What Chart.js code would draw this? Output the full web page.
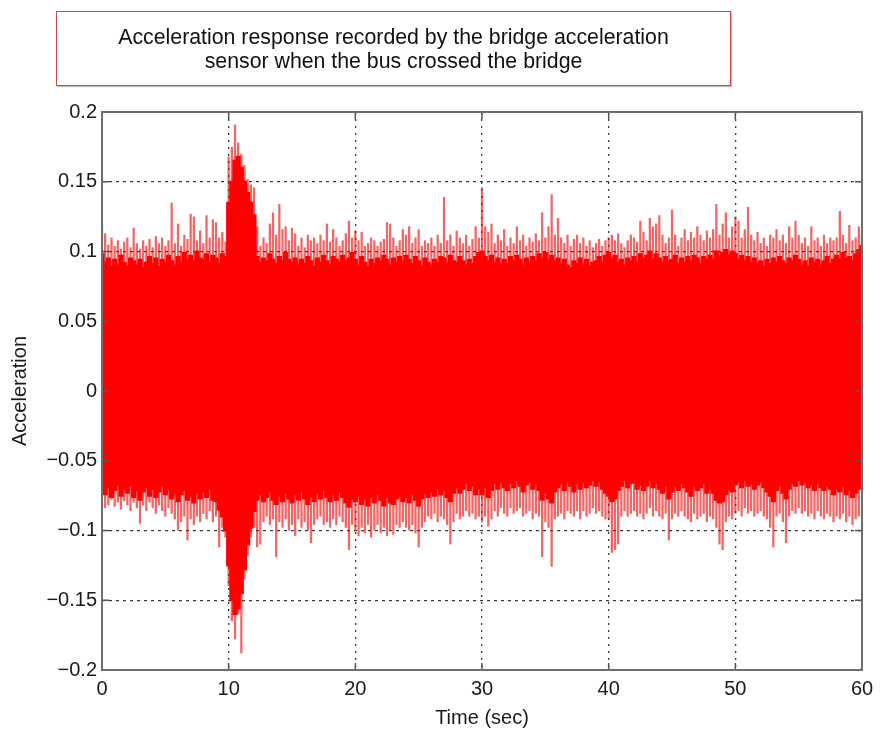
<!DOCTYPE html>
<html><head><meta charset="utf-8">
<script src="https://cdn.jsdelivr.net/npm/chart.js@4/dist/chart.umd.min.js"></script>
<style>
html,body{margin:0;padding:0;background:#fff;}
#wrap{position:relative;width:881px;height:734px;}
#c{position:absolute;left:0;top:0;}
#title{position:absolute;left:56px;top:11px;width:673px;height:73px;border:1px solid #d64545;box-shadow:1px 1px 1px #bbb;
 display:flex;align-items:center;justify-content:center;text-align:center;font-family:"Liberation Sans",Arial,sans-serif;font-size:21.3px;line-height:24px;color:#111;}
</style></head>
<body><div id="wrap"><canvas id="c" width="881" height="734"></canvas>
<div id="title">Acceleration response recorded by the bridge acceleration<br>sensor when the bus crossed the bridge</div></div>
<script>
const xTicks = [0,10,20,30,40,50,60];
const yTicks = [-0.2,-0.15,-0.1,-0.05,0,0.05,0.1,0.15,0.2];
const xLabel = "Time (sec)";
const yLabel = "Acceleration";

const spikeTime = [
0,0.25,0.5,0.75,1,1.25,1.5,1.75,2,2.25,2.5,2.75,3,3.25,3.5,3.75,4,4.25,4.5,4.75,
5,5.25,5.5,5.75,6,6.25,6.5,6.75,7,7.25,7.5,7.75,8,8.25,8.5,8.75,9,9.25,9.5,9.75,
10,10.25,10.5,10.75,11,11.25,11.5,11.75,12,12.25,12.5,12.75,13,13.25,13.5,13.75,14,14.25,14.5,14.75,
15,15.25,15.5,15.75,16,16.25,16.5,16.75,17,17.25,17.5,17.75,18,18.25,18.5,18.75,19,19.25,19.5,19.75,
20,20.25,20.5,20.75,21,21.25,21.5,21.75,22,22.25,22.5,22.75,23,23.25,23.5,23.75,24,24.25,24.5,24.75,
25,25.25,25.5,25.75,26,26.25,26.5,26.75,27,27.25,27.5,27.75,28,28.25,28.5,28.75,29,29.25,29.5,29.75,
30,30.25,30.5,30.75,31,31.25,31.5,31.75,32,32.25,32.5,32.75,33,33.25,33.5,33.75,34,34.25,34.5,34.75,
35,35.25,35.5,35.75,36,36.25,36.5,36.75,37,37.25,37.5,37.75,38,38.25,38.5,38.75,39,39.25,39.5,39.75,
40,40.25,40.5,40.75,41,41.25,41.5,41.75,42,42.25,42.5,42.75,43,43.25,43.5,43.75,44,44.25,44.5,44.75,
45,45.25,45.5,45.75,46,46.25,46.5,46.75,47,47.25,47.5,47.75,48,48.25,48.5,48.75,49,49.25,49.5,49.75,
50,50.25,50.5,50.75,51,51.25,51.5,51.75,52,52.25,52.5,52.75,53,53.25,53.5,53.75,54,54.25,54.5,54.75,
55,55.25,55.5,55.75,56,56.25,56.5,56.75,57,57.25,57.5,57.75,58,58.25,58.5,58.75,59,59.25,59.5,59.75,
60];

const upperPeak = [
0.120,0.113,0.105,0.110, 0.104,0.108,0.102,0.107, 0.110,0.103,0.117,0.106, 0.102,0.108,0.104,0.109, 0.103,0.111,0.106,0.110,
0.104,0.108,0.135,0.106, 0.120,0.104,0.112,0.109, 0.127,0.125,0.108,0.115, 0.106,0.126,0.110,0.123, 0.121,0.110,0.114,0.107,
0.168,0.175,0.191,0.178, 0.170,0.162,0.152,0.148, 0.146,0.118,0.104,0.110, 0.106,0.120,0.128,0.112, 0.134,0.116,0.118,0.108,
0.117,0.113,0.104,0.110, 0.103,0.112,0.108,0.110, 0.106,0.112,0.108,0.120, 0.107,0.116,0.110,0.104, 0.108,0.113,0.122,0.110,
0.115,0.108,0.114,0.104, 0.106,0.110,0.108,0.104, 0.107,0.109,0.121,0.120, 0.110,0.104,0.108,0.116, 0.112,0.118,0.106,0.110,
0.116,0.104,0.108,0.106, 0.110,0.104,0.112,0.106, 0.139,0.108,0.112,0.104, 0.115,0.110,0.106,0.112, 0.104,0.109,0.118,0.110,
0.146,0.118,0.114,0.120, 0.106,0.112,0.108,0.116, 0.104,0.110,0.106,0.118, 0.108,0.112,0.104,0.110, 0.107,0.113,0.108,0.128,
0.110,0.118,0.141,0.112, 0.124,0.110,0.106,0.112, 0.104,0.109,0.112,0.106, 0.110,0.104,0.108,0.103, 0.106,0.109,0.104,0.108,
0.110,0.112,0.108,0.113, 0.106,0.103,0.108,0.112, 0.110,0.107,0.122,0.114, 0.108,0.124,0.118,0.120, 0.126,0.112,0.106,0.110,
0.130,0.112,0.104,0.110, 0.116,0.108,0.114,0.110, 0.118,0.112,0.108,0.115, 0.110,0.116,0.134,0.112, 0.120,0.128,0.110,0.118,
0.125,0.122,0.110,0.116, 0.132,0.112,0.108,0.114, 0.106,0.110,0.104,0.112, 0.110,0.116,0.108,0.112, 0.106,0.118,0.110,0.122,
0.112,0.106,0.110,0.104, 0.118,0.108,0.110,0.104, 0.112,0.106,0.110,0.108, 0.110,0.129,0.112,0.106, 0.119,0.108,0.110,0.118,
0.113];

const lowerPeak = [
-0.080,-0.084,-0.082,-0.078, -0.083,-0.080,-0.085,-0.079, -0.082,-0.086,-0.080,-0.084, -0.095,-0.082,-0.086,-0.080, -0.084,-0.088,-0.082,-0.086,
-0.090,-0.084,-0.088,-0.092, -0.100,-0.094,-0.090,-0.107, -0.092,-0.096,-0.090,-0.094, -0.088,-0.092,-0.086,-0.094, -0.090,-0.112,-0.098,-0.105,
-0.140,-0.165,-0.178,-0.160, -0.188,-0.135,-0.118,-0.105, -0.098,-0.112,-0.110,-0.094, -0.090,-0.096,-0.092,-0.119, -0.094,-0.098,-0.092,-0.100,
-0.096,-0.104,-0.092,-0.098, -0.094,-0.100,-0.109,-0.096, -0.092,-0.090,-0.096,-0.094, -0.098,-0.092,-0.096,-0.090, -0.094,-0.098,-0.114,-0.096,
-0.100,-0.104,-0.098,-0.102, -0.096,-0.105,-0.100,-0.096, -0.102,-0.098,-0.104,-0.100, -0.103,-0.096,-0.098,-0.094, -0.098,-0.100,-0.096,-0.102,
-0.112,-0.098,-0.094,-0.090, -0.092,-0.088,-0.094,-0.090, -0.092,-0.096,-0.110,-0.094, -0.088,-0.092,-0.090,-0.086, -0.090,-0.088,-0.092,-0.090,
-0.094,-0.090,-0.097,-0.092, -0.086,-0.090,-0.084,-0.088, -0.090,-0.084,-0.088,-0.086, -0.084,-0.090,-0.088,-0.086, -0.092,-0.088,-0.090,-0.119,
-0.094,-0.098,-0.126,-0.092, -0.090,-0.088,-0.092,-0.086, -0.088,-0.090,-0.086,-0.092, -0.086,-0.090,-0.088,-0.084, -0.088,-0.086,-0.090,-0.092,
-0.092,-0.116,-0.114,-0.110, -0.090,-0.086,-0.090,-0.088, -0.086,-0.090,-0.088,-0.092, -0.088,-0.084,-0.090,-0.086, -0.090,-0.092,-0.088,-0.107,
-0.092,-0.088,-0.090,-0.086, -0.090,-0.092,-0.094,-0.088, -0.092,-0.090,-0.088,-0.094, -0.090,-0.092,-0.098,-0.110, -0.114,-0.094,-0.090,-0.092,
-0.088,-0.086,-0.090,-0.084, -0.088,-0.086,-0.090,-0.088, -0.086,-0.090,-0.092,-0.098, -0.112,-0.090,-0.088,-0.094, -0.109,-0.090,-0.086,-0.088,
-0.084,-0.088,-0.086,-0.090, -0.088,-0.092,-0.086,-0.090, -0.092,-0.088,-0.090,-0.094, -0.090,-0.092,-0.088,-0.094, -0.090,-0.096,-0.092,-0.090,
-0.066];

const coreTop = [
0.098,0.092,0.095,0.089, 0.094,0.090,0.097,0.092, 0.089,0.095,0.093,0.090, 0.094,0.088,0.092,0.096, 0.091,0.095,0.089,0.094,
0.092,0.097,0.093,0.090, 0.096,0.092,0.099,0.094, 0.097,0.093,0.100,0.095, 0.094,0.098,0.092,0.097, 0.095,0.091,0.098,0.096,
0.135,0.150,0.165,0.168, 0.160,0.150,0.142,0.135, 0.126,0.096,0.092,0.095, 0.093,0.098,0.094,0.091, 0.096,0.093,0.099,0.094,
0.092,0.095,0.090,0.094, 0.091,0.096,0.093,0.089, 0.095,0.092,0.097,0.093, 0.090,0.096,0.094,0.092, 0.097,0.093,0.095,0.099,
0.094,0.090,0.096,0.092, 0.089,0.094,0.091,0.095, 0.093,0.097,0.094,0.090, 0.095,0.092,0.096,0.093, 0.097,0.094,0.091,0.096,
0.093,0.089,0.095,0.092, 0.090,0.094,0.092,0.096, 0.095,0.091,0.097,0.093, 0.092,0.096,0.093,0.090, 0.094,0.091,0.096,0.099,
0.100,0.096,0.093,0.097, 0.092,0.095,0.090,0.094, 0.091,0.096,0.093,0.097, 0.094,0.090,0.095,0.092, 0.096,0.093,0.098,0.095,
0.099,0.094,0.097,0.093, 0.095,0.091,0.094,0.090, 0.088,0.093,0.091,0.095, 0.090,0.094,0.089,0.092, 0.093,0.096,0.092,0.097,
0.099,0.094,0.097,0.092, 0.094,0.090,0.095,0.093, 0.096,0.092,0.098,0.095, 0.097,0.100,0.094,0.098, 0.095,0.092,0.096,0.093,
0.094,0.097,0.091,0.095, 0.092,0.096,0.093,0.097, 0.095,0.091,0.096,0.094, 0.097,0.094,0.100,0.096, 0.099,0.101,0.097,0.100,
0.098,0.094,0.097,0.093, 0.096,0.092,0.095,0.091, 0.093,0.089,0.094,0.091, 0.095,0.092,0.096,0.093, 0.091,0.095,0.093,0.097,
0.094,0.090,0.093,0.089, 0.095,0.092,0.094,0.090, 0.093,0.096,0.091,0.094, 0.097,0.094,0.099,0.095, 0.096,0.093,0.098,0.101,
0.104];

const coreBottom = [
-0.066,-0.074,-0.069,-0.076, -0.071,-0.067,-0.075,-0.070, -0.073,-0.068,-0.076,-0.071, -0.078,-0.072,-0.069,-0.075, -0.070,-0.076,-0.072,-0.068,
-0.074,-0.070,-0.077,-0.073, -0.079,-0.074,-0.071,-0.078, -0.075,-0.080,-0.073,-0.077, -0.072,-0.076,-0.070,-0.078, -0.079,-0.085,-0.090,-0.100,
-0.125,-0.150,-0.160,-0.156, -0.145,-0.128,-0.110,-0.098, -0.086,-0.078,-0.074,-0.079, -0.076,-0.072,-0.078,-0.081, -0.075,-0.079,-0.073,-0.077,
-0.080,-0.074,-0.078,-0.072, -0.077,-0.081,-0.075,-0.079, -0.073,-0.077,-0.071,-0.076, -0.079,-0.074,-0.078,-0.072, -0.076,-0.080,-0.083,-0.077,
-0.079,-0.075,-0.081,-0.077, -0.082,-0.076,-0.080,-0.074, -0.078,-0.082,-0.076,-0.080, -0.081,-0.077,-0.075,-0.079, -0.076,-0.080,-0.074,-0.078,
-0.082,-0.077,-0.073,-0.076, -0.072,-0.075,-0.070,-0.074, -0.071,-0.076,-0.079,-0.073, -0.069,-0.073,-0.070,-0.066, -0.071,-0.068,-0.074,-0.070,
-0.074,-0.069,-0.076,-0.071, -0.066,-0.070,-0.065,-0.069, -0.071,-0.066,-0.069,-0.064, -0.068,-0.072,-0.067,-0.065, -0.070,-0.066,-0.071,-0.078,
-0.073,-0.077,-0.080,-0.072, -0.069,-0.066,-0.071,-0.065, -0.068,-0.072,-0.066,-0.070, -0.065,-0.069,-0.067,-0.064, -0.068,-0.065,-0.070,-0.073,
-0.075,-0.079,-0.077,-0.071, -0.068,-0.064,-0.069,-0.066, -0.065,-0.070,-0.067,-0.071, -0.068,-0.064,-0.069,-0.066, -0.070,-0.073,-0.068,-0.077,
-0.072,-0.068,-0.071,-0.066, -0.069,-0.072,-0.075,-0.068, -0.071,-0.069,-0.066,-0.073, -0.070,-0.073,-0.078,-0.080, -0.079,-0.074,-0.070,-0.072,
-0.067,-0.065,-0.069,-0.064, -0.068,-0.066,-0.070,-0.067, -0.065,-0.069,-0.072,-0.075, -0.079,-0.071,-0.068,-0.073, -0.077,-0.070,-0.066,-0.068,
-0.064,-0.067,-0.065,-0.069, -0.067,-0.071,-0.066,-0.069, -0.071,-0.068,-0.070,-0.074, -0.070,-0.072,-0.068,-0.074, -0.071,-0.076,-0.073,-0.070,
-0.058];

const FONT = '"Liberation Sans", Arial, sans-serif';
const TEXT = '#1a1a1a';
const SPIKE = 'rgba(235,0,0,0.6)';

function fmt(v){
  const r = Math.round(v*100)/100;
  if (r === 0) return '0';
  const s = Math.abs(r).toString();
  return r < 0 ? '\u2212' + s : s;
}

const frameTicks = {
  id:'frameTicks',
  afterDraw(chart){
    const {ctx, chartArea:a, scales:{x, y}} = chart;
    ctx.save();
    ctx.strokeStyle = '#555';
    ctx.lineWidth = 1.5;
    ctx.beginPath();
    const L = 7;
    xTicks.forEach(v=>{
      const px = x.getPixelForValue(v);
      ctx.moveTo(px, a.bottom); ctx.lineTo(px, a.bottom - L);
      ctx.moveTo(px, a.top); ctx.lineTo(px, a.top + L);
    });
    yTicks.forEach(v=>{
      const py = y.getPixelForValue(v);
      ctx.moveTo(a.left, py); ctx.lineTo(a.left + L, py);
      ctx.moveTo(a.right, py); ctx.lineTo(a.right - L, py);
    });
    ctx.stroke();
    ctx.strokeStyle = '#6e6e6e';
    ctx.lineWidth = 2;
    ctx.strokeRect(a.left, a.top, a.right - a.left, a.bottom - a.top);
    ctx.restore();
  }
};

new Chart(document.getElementById('c'), {
  type:'bar',
  data:{
    datasets:[
      {
        data: spikeTime.map((t,i)=>({x:t, y:[coreBottom[i], coreTop[i]]})),
        backgroundColor:'#ff0000',
        borderWidth:0,
        barPercentage:1,
        categoryPercentage:1,
        inflateAmount:1,
        grouped:false,
        order:1
      },
      {
        data: spikeTime.map((t,i)=>({x:t, y:[coreTop[i], upperPeak[i]]})),
        backgroundColor:SPIKE,
        borderWidth:0,
        barPercentage:0.72,
        categoryPercentage:1,
        inflateAmount:0,
        grouped:false,
        order:2
      },
      {
        data: spikeTime.map((t,i)=>({x:t, y:[lowerPeak[i], coreBottom[i]]})),
        backgroundColor:SPIKE,
        borderWidth:0,
        barPercentage:0.72,
        categoryPercentage:1,
        inflateAmount:0,
        grouped:false,
        order:3
      }
    ]
  },
  options:{
    responsive:false,
    animation:false,
    events:[],
    layout:{padding:{top:112, right:19, left:0, bottom:0}},
    plugins:{legend:{display:false}, tooltip:{enabled:false}},
    scales:{
      x:{
        type:'linear', min:0, max:60, offset:false,
        afterBuildTicks(s){ s.ticks = xTicks.map(v=>({value:v})); },
        afterFit(s){ s.height = 64; },
        ticks:{ color:TEXT, font:{family:FONT, size:20}, padding:7, maxRotation:0, callback:v=>String(v) },
        grid:{ color:'#3a3a3a', lineWidth:1.3, drawTicks:false, offset:false },
        border:{ display:false, dash:[2,5] },
        title:{ display:true, text:xLabel, color:TEXT, font:{family:FONT, size:20}, padding:{top:0, bottom:4} }
      },
      y:{
        type:'linear', min:-0.2, max:0.2,
        afterBuildTicks(s){ s.ticks = yTicks.map(v=>({value:v})); },
        afterFit(s){ s.width = 102; },
        ticks:{ color:TEXT, font:{family:FONT, size:20}, padding:5, callback:v=>fmt(v) },
        grid:{ color:'#3a3a3a', lineWidth:1.3, drawTicks:false },
        border:{ display:false, dash:[3,4] },
        title:{ display:true, text:yLabel, color:TEXT, font:{family:FONT, size:20}, padding:{top:8, bottom:0} }
      }
    }
  },
  plugins:[frameTicks]
});
</script>
</body></html>
